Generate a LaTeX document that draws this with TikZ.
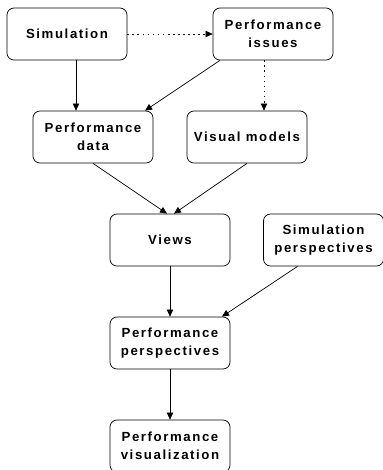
\documentclass[tikz,border=0pt]{standalone}
\usepackage{fontspec}
\setmainfont{Liberation Sans}[LetterSpace=12]
\usepackage{tikz}
\usetikzlibrary{positioning,calc,arrows.meta}
\tikzset{
  box/.style  = {draw, fill=white, rounded corners=5pt, minimum width=3cm,
                 minimum height=1.3cm, inner sep=1pt, align=center,
                 font=\fontsize{9.4}{12.5}\selectfont\bfseries, line width=0.5pt},
  arr/.style  = {line width=0.5pt, -{Triangle[length=5pt,width=4.5pt]}},
  darr/.style = {arr, dash pattern=on 1.2pt off 2.4pt},
}

\begin{document}
\begin{tikzpicture}[x=0.025cm,y=-0.025cm]
  \useasboundingbox (0,0) rectangle (383,470);
  % top row
  \node[box] (sim)   at (67,34)  {Simulation};
  \node[box] (issue) at (273,34) {Performance\\issues};
  % second row
  \node[box] (pdata) at (93,137)  {Performance\\data};
  \node[box] (vis)   at (247,137) {Visual models};
  % middle
  \node[box] (views) at (170,240)   {Views};
  \node[box] (simp)  at (323.5,240) {Simulation\\perspectives};
  % bottom
  \node[box] (persp) at (170,343) {Performance\\perspectives};
  \node[box] (pvis)  at (170,446) {Performance\\visualization};
  % connectors
  \draw[arr]  ($(sim.south)+(9,0)$) -- ($(pdata.north)+(-17,0)$);
  \draw[darr] (sim.east) -- (issue.west);
  \draw[arr]  ($(issue.south)+(-53,0)$) -- ($(pdata.north)+(52,0)$);
  \draw[darr] ($(issue.south)+(-9,0)$) -- ($(vis.north)+(17,0)$);
  \draw[arr]  (pdata.south) -- ($(views.north)+(-3,0)$);
  \draw[arr]  (vis.south) -- ($(views.north)+(4,0)$);
  \draw[arr]  (views) -- (persp);
  \draw[arr]  ($(simp.south)+(-26,0)$) -- ($(persp.north)+(52,0)$);
  \draw[arr]  (persp) -- (pvis);
\end{tikzpicture}
\end{document}
